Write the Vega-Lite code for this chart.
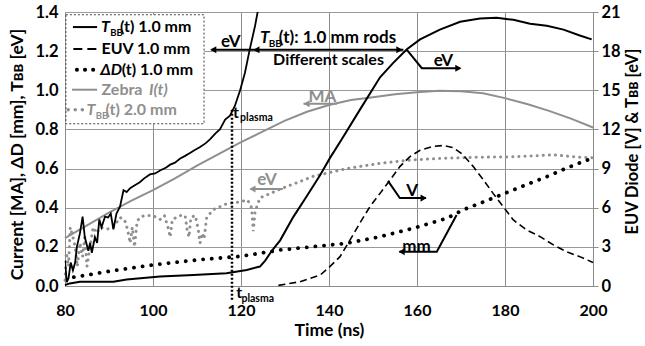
{
  "$schema": "https://vega.github.io/schema/vega-lite/v6.json",
  "width": 528,
  "height": 274,
  "autosize": "none",
  "padding": {"left": 65, "top": 12, "right": 52, "bottom": 60},
  "background": "white",
  "config": {
    "font": "Lato",
    "view": {"stroke": "#8c8c8c"},
    "text": {"font": "Lato", "fontWeight": "bold"}
  },
  "datasets": {
    "minorGrid": [
      {"t":85},{"t":90},{"t":95},{"t":105},{"t":110},{"t":115},{"t":125},{"t":130},{"t":135},{"t":145},{"t":150},{"t":155},{"t":165},{"t":170},{"t":175},{"t":185},{"t":190},{"t":195}
    ],
    "tbb2": [
      {"t":80.0,"v":0.03},{"t":80.3,"v":0.17},{"t":80.8,"v":0.10},{"t":81.2,"v":0.30},{"t":81.8,"v":0.25},{"t":82.3,"v":0.20},{"t":82.8,"v":0.10},{"t":83.4,"v":0.22},{"t":84.0,"v":0.15},{"t":84.5,"v":0.25},{"t":85.0,"v":0.10},{"t":85.7,"v":0.20},{"t":86.4,"v":0.30},{"t":87.2,"v":0.27},{"t":88.0,"v":0.30},{"t":89.5,"v":0.29},{"t":91.0,"v":0.30},{"t":92.5,"v":0.35},{"t":93.5,"v":0.34},{"t":94.2,"v":0.29},{"t":94.8,"v":0.22},{"t":95.3,"v":0.30},{"t":95.8,"v":0.20},{"t":96.4,"v":0.33},{"t":97.0,"v":0.35},{"t":98.0,"v":0.36},{"t":100.0,"v":0.36},{"t":101.6,"v":0.34},{"t":102.6,"v":0.36},{"t":103.4,"v":0.30},{"t":103.9,"v":0.25},{"t":104.4,"v":0.34},{"t":106.1,"v":0.36},{"t":107.3,"v":0.36},{"t":107.8,"v":0.28},{"t":108.2,"v":0.25},{"t":108.6,"v":0.35},{"t":109.6,"v":0.36},{"t":110.2,"v":0.30},{"t":110.7,"v":0.22},{"t":111.2,"v":0.27},{"t":111.6,"v":0.24},{"t":112.2,"v":0.35},{"t":113.7,"v":0.39},{"t":116.7,"v":0.42},{"t":119.8,"v":0.43},{"t":121.5,"v":0.44},{"t":122.4,"v":0.40},{"t":122.8,"v":0.28},{"t":123.2,"v":0.38},{"t":124.3,"v":0.45},{"t":128.9,"v":0.495},{"t":136.4,"v":0.56},{"t":144.0,"v":0.60},{"t":151.6,"v":0.627},{"t":159.2,"v":0.645},{"t":166.8,"v":0.653},{"t":174.3,"v":0.658},{"t":181.9,"v":0.66},{"t":191.0,"v":0.67},{"t":197.0,"v":0.658},{"t":200.0,"v":0.655}
    ],
    "zebra": [
      {"t":80,"v":0.245},{"t":85,"v":0.31},{"t":90,"v":0.375},{"t":95,"v":0.435},{"t":100,"v":0.49},{"t":105,"v":0.55},{"t":110,"v":0.615},{"t":115,"v":0.675},{"t":120,"v":0.735},{"t":125,"v":0.79},{"t":130,"v":0.845},{"t":135,"v":0.89},{"t":140,"v":0.925},{"t":145,"v":0.95},{"t":150,"v":0.965},{"t":155,"v":0.98},{"t":160,"v":0.99},{"t":165,"v":0.997},{"t":170,"v":0.995},{"t":175,"v":0.985},{"t":180,"v":0.96},{"t":185,"v":0.93},{"t":190,"v":0.895},{"t":195,"v":0.855},{"t":200,"v":0.81}
    ],
    "dd": [
      {"t":82,"v":0.045},{"t":90,"v":0.075},{"t":100,"v":0.108},{"t":110,"v":0.133},{"t":120,"v":0.152},{"t":128.9,"v":0.184},{"t":144,"v":0.218},{"t":151.6,"v":0.252},{"t":159.2,"v":0.295},{"t":166.8,"v":0.346},{"t":170.5,"v":0.389},{"t":181.9,"v":0.491},{"t":189.5,"v":0.559},{"t":194.8,"v":0.61},{"t":200,"v":0.655}
    ],
    "tbb1L": [
      {"t":80.0,"v":0.13},{"t":80.4,"v":0.02},{"t":80.8,"v":0.04},{"t":81.3,"v":0.12},{"t":81.8,"v":0.08},{"t":82.3,"v":0.12},{"t":82.7,"v":0.20},{"t":83.4,"v":0.27},{"t":84.0,"v":0.355},{"t":84.5,"v":0.25},{"t":85.3,"v":0.18},{"t":85.7,"v":0.22},{"t":86.1,"v":0.17},{"t":86.8,"v":0.25},{"t":87.3,"v":0.22},{"t":87.8,"v":0.34},{"t":88.3,"v":0.30},{"t":89.1,"v":0.355},{"t":89.8,"v":0.35},{"t":90.4,"v":0.37},{"t":91.0,"v":0.29},{"t":91.7,"v":0.37},{"t":92.5,"v":0.405},{"t":93.3,"v":0.49},{"t":94.0,"v":0.48},{"t":94.8,"v":0.50},{"t":95.5,"v":0.51},{"t":97.0,"v":0.53},{"t":98.0,"v":0.55},{"t":99.3,"v":0.57},{"t":100.5,"v":0.575},{"t":101.6,"v":0.59},{"t":103.0,"v":0.605},{"t":103.9,"v":0.62},{"t":105.0,"v":0.63},{"t":106.1,"v":0.65},{"t":107.3,"v":0.665},{"t":108.4,"v":0.68},{"t":109.5,"v":0.695},{"t":110.7,"v":0.71},{"t":112.0,"v":0.73},{"t":113.0,"v":0.75},{"t":114.2,"v":0.78},{"t":115.2,"v":0.80},{"t":116.4,"v":0.85},{"t":117.5,"v":0.87},{"t":118.6,"v":0.92},{"t":119.8,"v":1.00},{"t":120.9,"v":1.09},{"t":122.0,"v":1.21},{"t":123.2,"v":1.33},{"t":124.2,"v":1.45}
    ],
    "tbb1R": [
      {"t":80,"v":0.08},{"t":81.1,"v":0.2},{"t":83.4,"v":0.33},{"t":91,"v":0.33},{"t":94,"v":0.5},{"t":101.6,"v":0.72},{"t":109.2,"v":0.84},{"t":116.7,"v":0.97},{"t":121.3,"v":1.23},{"t":124.3,"v":1.49},{"t":125.5,"v":1.95},{"t":127,"v":2.7},{"t":128.9,"v":3.5},{"t":131.9,"v":5.3},{"t":134.9,"v":6.86},{"t":138,"v":8.5},{"t":140.2,"v":9.8},{"t":142.9,"v":11.25},{"t":147,"v":13.5},{"t":151.6,"v":16.0},{"t":154.6,"v":17.1},{"t":157.7,"v":18.15},{"t":160.7,"v":18.9},{"t":165.2,"v":19.65},{"t":169.8,"v":20.25},{"t":174.3,"v":20.5},{"t":178.1,"v":20.55},{"t":181.9,"v":20.4},{"t":185.7,"v":20.1},{"t":189.5,"v":19.95},{"t":193.3,"v":19.65},{"t":197,"v":19.2},{"t":199.7,"v":18.9}
    ],
    "euv": [
      {"t":128.5,"v":0.05},{"t":133.4,"v":0.33},{"t":138,"v":0.84},{"t":140.2,"v":1.48},{"t":142.5,"v":2.25},{"t":144.8,"v":3.53},{"t":147,"v":4.81},{"t":149.3,"v":6.08},{"t":151.6,"v":7.1},{"t":153.9,"v":8.13},{"t":156.1,"v":9.15},{"t":158.4,"v":9.92},{"t":160.7,"v":10.4},{"t":163.7,"v":10.7},{"t":166,"v":10.77},{"t":168.3,"v":10.6},{"t":170.5,"v":10.05},{"t":172.8,"v":9.15},{"t":175.1,"v":8.13},{"t":177.3,"v":7.1},{"t":179.6,"v":6.08},{"t":181.9,"v":5.06},{"t":184.9,"v":4.3},{"t":188,"v":3.78},{"t":191,"v":3.15},{"t":194,"v":2.63},{"t":197,"v":2.25},{"t":200,"v":1.8}
    ],
    "tplasma": [{"t":117.95,"v":0.90,"v2":-0.07}],
    "arrowsBlack": [
      {"id":"a","o":1,"t":113.3,"v":1.207},{"id":"a","o":2,"t":156.9,"v":1.207},
      {"id":"b","o":1,"t":157.7,"v":1.207},{"id":"b","o":2,"t":161.1,"v":1.113},{"id":"b","o":3,"t":169.8,"v":1.113},
      {"id":"c","o":1,"t":153.4,"v":0.537},{"id":"c","o":2,"t":156.1,"v":0.449},{"id":"c","o":3,"t":162.0,"v":0.449},
      {"id":"d","o":1,"t":169.0,"v":0.363},{"id":"d","o":2,"t":164.5,"v":0.175},{"id":"d","o":3,"t":156.0,"v":0.175}
    ],
    "arrowsGray": [
      {"id":"m","o":1,"t":141.8,"v":0.931},{"id":"m","o":2,"t":134.2,"v":0.931},
      {"id":"e","o":1,"t":129.5,"v":0.496},{"id":"e","o":2,"t":122.2,"v":0.496}
    ],
    "headsLeftBlack": [{"t":113.7,"v":1.207},{"t":123.5,"v":1.207},{"t":156.5,"v":0.175}],
    "headsRightBlack": [{"t":156.0,"v":1.207},{"t":169.4,"v":1.113},{"t":161.5,"v":0.449}],
    "headsLeftGray": [{"t":134.9,"v":0.931},{"t":122.6,"v":0.496}],
    "legendBox": [{"t":80.2,"t2":111.6,"v":1.386,"v2":0.829}],
    "legendSym": [
      {"k":1,"t":81.8,"t2":87.3,"v":1.323},
      {"k":2,"t":81.9,"t2":87.4,"v":1.211},
      {"k":3,"t":82.7,"t2":86.5,"v":1.105},
      {"k":4,"t":81.6,"t2":87.3,"v":1.003},
      {"k":5,"t":80.7,"t2":84.2,"v":0.900}
    ],
    "legTextBlack": [
      {"t":92.5,"v":1.323,"text":"(t) 1.0 mm"},
      {"t":88.3,"v":1.211,"text":"EUV 1.0 mm"},
      {"t":92.9,"v":1.105,"text":"(t) 1.0 mm"}
    ],
    "legItalicBlack": [
      {"t":88.2,"v":1.323,"text":"T"},
      {"t":88.0,"v":1.105,"text":"ΔD"}
    ],
    "legSubBlack": [{"t":90.3,"v":1.294,"text":"BB"}],
    "legTextGray": [
      {"t":88.3,"v":1.003,"text":"Zebra"},
      {"t":89.2,"v":0.900,"text":"(t) 2.0 mm"}
    ],
    "legItalicGray": [
      {"t":99.1,"v":1.003,"text":"I(t)"},
      {"t":84.9,"v":0.900,"text":"T"}
    ],
    "legSubGray": [{"t":87.0,"v":0.871,"text":"BB"}],
    "annoItalic": [{"t":124.3,"v":1.269,"text":"T"}],
    "annoSub": [{"t":126.3,"v":1.238,"text":"BB"}],
    "annoText": [{"t":128.6,"v":1.269,"text":"(t): 1.0 mm rods"}],
    "annoText2": [{"t":127.3,"v":1.156,"text":"Different scales"}],
    "labelsBlack": [
      {"t":117.7,"v":1.248,"text":"eV"},
      {"t":166.0,"v":1.149,"text":"eV"},
      {"t":158.9,"v":0.487,"text":"V"},
      {"t":159.9,"v":0.201,"text":"mm"}
    ],
    "labelsGray": [
      {"t":138.5,"v":0.967,"text":"MA"},
      {"t":125.9,"v":0.542,"text":"eV"}
    ],
    "tpT": [{"t":118.2,"v":0.885,"text":"t"},{"t":118.9,"v":-0.034,"text":"t"}],
    "tpSub": [{"t":119.8,"v":0.859,"text":"plasma"},{"t":120.1,"v":-0.064,"text":"plasma"}]
  },
  "encoding": {
    "x": {"field": "t", "type": "quantitative", "scale": {"domain": [80, 200], "nice": false, "zero": false},
      "axis": {"title": "Time (ns)", "values": [80,100,120,140,160,180,200], "labelOverlap": false, "labelFlush": false,
        "grid": true, "gridColor": "#8c8c8c",
        "ticks": false, "domainColor": "#8c8c8c", "labelFontSize": 16, "labelFontWeight": "bold", "labelColor": "#000000", "labelPadding": 16,
        "titleFontSize": 17.5, "titleFontWeight": "bold", "titleColor": "#000000", "titleY": 44, "titleBaseline": "middle"}}
  },
  "layer": [
    {
      "encoding": {
        "y": {"field": "v", "type": "quantitative", "scale": {"domain": [0, 1.4], "nice": false, "zero": false},
          "axis": {"title": "Current [MA], ΔD [mm], Tʙʙ [eV]", "values": [0, 0.2, 0.4, 0.6, 0.8, 1, 1.2, 1.4], "format": ".1f",
            "grid": true, "gridColor": "#999999", "ticks": false, "domainColor": "#8c8c8c", "labelFontSize": 16.5, "labelFontWeight": "bold",
            "labelColor": "#000000", "labelPadding": 7, "labelFlush": false, "labelOverlap": false, "titleFontSize": 17.5, "titleFontWeight": "bold", "titleColor": "#000000",
            "titleX": -48, "titleY": 142, "titleAngle": 270, "titleBaseline": "middle", "titleAlign": "center"}}
      },
      "layer": [
        {
          "data": {"name": "minorGrid"},
          "mark": {"type": "rule", "color": "#bdbdbd", "strokeWidth": 1},
          "encoding": {"y": {"datum": 0}, "y2": {"datum": 1.4}}
        },
        {
          "data": {"name": "tbb2"},
          "mark": {"type": "line", "color": "#8f8f8f", "strokeWidth": 3, "strokeDash": [0.1, 6], "strokeCap": "round"}
        },
        {
          "data": {"name": "zebra"},
          "mark": {"type": "line", "color": "#8f8f8f", "strokeWidth": 2}
        },
        {
          "data": {"name": "dd"},
          "mark": {"type": "line", "color": "#000000", "strokeWidth": 3.8, "strokeDash": [0.1, 8.6], "strokeCap": "round"}
        },
        {
          "data": {"name": "tbb1L"},
          "mark": {"type": "line", "color": "#000000", "strokeWidth": 1.8, "clip": true}
        },
        {
          "data": {"name": "tplasma"},
          "mark": {"type": "rule", "color": "#000000", "strokeWidth": 2.5, "strokeDash": [2, 2]},
          "encoding": {"y2": {"field": "v2"}}
        },
        {
          "data": {"name": "arrowsBlack"},
          "mark": {"type": "line", "color": "#000000", "strokeWidth": 2},
          "encoding": {"detail": {"field": "id"}, "order": {"field": "o"}}
        },
        {
          "data": {"name": "arrowsGray"},
          "mark": {"type": "line", "color": "#8f8f8f", "strokeWidth": 2},
          "encoding": {"detail": {"field": "id"}, "order": {"field": "o"}}
        },
        {
          "data": {"name": "headsLeftBlack"},
          "mark": {"type": "point", "shape": "triangle-left", "filled": true, "color": "#000000", "size": 50, "opacity": 1}
        },
        {
          "data": {"name": "headsRightBlack"},
          "mark": {"type": "point", "shape": "triangle-right", "filled": true, "color": "#000000", "size": 50, "opacity": 1}
        },
        {
          "data": {"name": "headsLeftGray"},
          "mark": {"type": "point", "shape": "triangle-left", "filled": true, "color": "#8f8f8f", "size": 50, "opacity": 1}
        },
        {
          "data": {"name": "legendBox"},
          "mark": {"type": "rect", "fill": "#ffffff", "stroke": "#444444", "strokeWidth": 1, "strokeDash": [2, 2]},
          "encoding": {"x2": {"field": "t2"}, "y2": {"field": "v2"}}
        },
        {
          "data": {"name": "legendSym"},
          "transform": [{"filter": "datum.k === 1"}],
          "mark": {"type": "rule", "color": "#000000", "strokeWidth": 2},
          "encoding": {"x2": {"field": "t2"}}
        },
        {
          "data": {"name": "legendSym"},
          "transform": [{"filter": "datum.k === 2"}],
          "mark": {"type": "rule", "color": "#000000", "strokeWidth": 2, "strokeDash": [9, 5]},
          "encoding": {"x2": {"field": "t2"}}
        },
        {
          "data": {"name": "legendSym"},
          "transform": [{"filter": "datum.k === 3"}],
          "mark": {"type": "rule", "color": "#000000", "strokeWidth": 4, "strokeDash": [0.1, 8], "strokeCap": "round"},
          "encoding": {"x2": {"field": "t2"}}
        },
        {
          "data": {"name": "legendSym"},
          "transform": [{"filter": "datum.k === 4"}],
          "mark": {"type": "rule", "color": "#8f8f8f", "strokeWidth": 2},
          "encoding": {"x2": {"field": "t2"}}
        },
        {
          "data": {"name": "legendSym"},
          "transform": [{"filter": "datum.k === 5"}],
          "mark": {"type": "rule", "color": "#8f8f8f", "strokeWidth": 3.5, "strokeDash": [0.1, 7], "strokeCap": "round"},
          "encoding": {"x2": {"field": "t2"}}
        },
        {
          "data": {"name": "legTextBlack"},
          "mark": {"type": "text", "align": "left", "baseline": "middle", "fontSize": 16, "color": "#000000"},
          "encoding": {"text": {"field": "text"}}
        },
        {
          "data": {"name": "legItalicBlack"},
          "mark": {"type": "text", "align": "left", "baseline": "middle", "fontSize": 16, "fontStyle": "italic", "color": "#000000"},
          "encoding": {"text": {"field": "text"}}
        },
        {
          "data": {"name": "legSubBlack"},
          "mark": {"type": "text", "align": "left", "baseline": "middle", "fontSize": 9.5, "color": "#000000"},
          "encoding": {"text": {"field": "text"}}
        },
        {
          "data": {"name": "legTextGray"},
          "mark": {"type": "text", "align": "left", "baseline": "middle", "fontSize": 16, "color": "#8f8f8f"},
          "encoding": {"text": {"field": "text"}}
        },
        {
          "data": {"name": "legItalicGray"},
          "mark": {"type": "text", "align": "left", "baseline": "middle", "fontSize": 16, "fontStyle": "italic", "color": "#8f8f8f"},
          "encoding": {"text": {"field": "text"}}
        },
        {
          "data": {"name": "legSubGray"},
          "mark": {"type": "text", "align": "left", "baseline": "middle", "fontSize": 9.5, "color": "#8f8f8f"},
          "encoding": {"text": {"field": "text"}}
        },
        {
          "data": {"name": "annoItalic"},
          "mark": {"type": "text", "align": "left", "baseline": "middle", "fontSize": 17, "fontStyle": "italic", "color": "#000000"},
          "encoding": {"text": {"field": "text"}}
        },
        {
          "data": {"name": "annoSub"},
          "mark": {"type": "text", "align": "left", "baseline": "middle", "fontSize": 10, "color": "#000000"},
          "encoding": {"text": {"field": "text"}}
        },
        {
          "data": {"name": "annoText"},
          "mark": {"type": "text", "align": "left", "baseline": "middle", "fontSize": 17, "color": "#000000"},
          "encoding": {"text": {"field": "text"}}
        },
        {
          "data": {"name": "annoText2"},
          "mark": {"type": "text", "align": "left", "baseline": "middle", "fontSize": 16, "color": "#000000"},
          "encoding": {"text": {"field": "text"}}
        },
        {
          "data": {"name": "labelsBlack"},
          "mark": {"type": "text", "align": "center", "baseline": "middle", "fontSize": 17, "color": "#000000"},
          "encoding": {"text": {"field": "text"}}
        },
        {
          "data": {"name": "labelsGray"},
          "mark": {"type": "text", "align": "center", "baseline": "middle", "fontSize": 17, "color": "#8f8f8f"},
          "encoding": {"text": {"field": "text"}}
        },
        {
          "data": {"name": "tpT"},
          "mark": {"type": "text", "align": "left", "baseline": "middle", "fontSize": 16, "color": "#000000"},
          "encoding": {"text": {"field": "text"}}
        },
        {
          "data": {"name": "tpSub"},
          "mark": {"type": "text", "align": "left", "baseline": "middle", "fontSize": 10.5, "color": "#000000"},
          "encoding": {"text": {"field": "text"}}
        }
      ]
    },
    {
      "encoding": {
        "y": {"field": "v", "type": "quantitative", "scale": {"domain": [0, 21], "nice": false, "zero": false},
          "axis": {"orient": "right", "title": "EUV Diode [V] & Tʙʙ [eV]", "values": [0, 3, 6, 9, 12, 15, 18, 21], "grid": false,
            "ticks": true, "tickSize": 5, "tickColor": "#8c8c8c", "domainColor": "#8c8c8c", "labelFontSize": 16.5, "labelFontWeight": "bold",
            "labelColor": "#000000", "labelPadding": 3, "labelFlush": false, "labelOverlap": false, "titleFontSize": 16.5, "titleFontWeight": "bold", "titleColor": "#000000",
            "titleX": 39, "titleY": 129, "titleAngle": 270, "titleBaseline": "middle", "titleAlign": "center"}}
      },
      "layer": [
        {
          "data": {"name": "euv"},
          "mark": {"type": "line", "color": "#000000", "strokeWidth": 1.6, "strokeDash": [7, 4]}
        },
        {
          "data": {"name": "tbb1R"},
          "mark": {"type": "line", "color": "#000000", "strokeWidth": 2}
        }
      ]
    }
  ],
  "resolve": {"scale": {"y": "independent"}, "axis": {"y": "independent"}}
}
